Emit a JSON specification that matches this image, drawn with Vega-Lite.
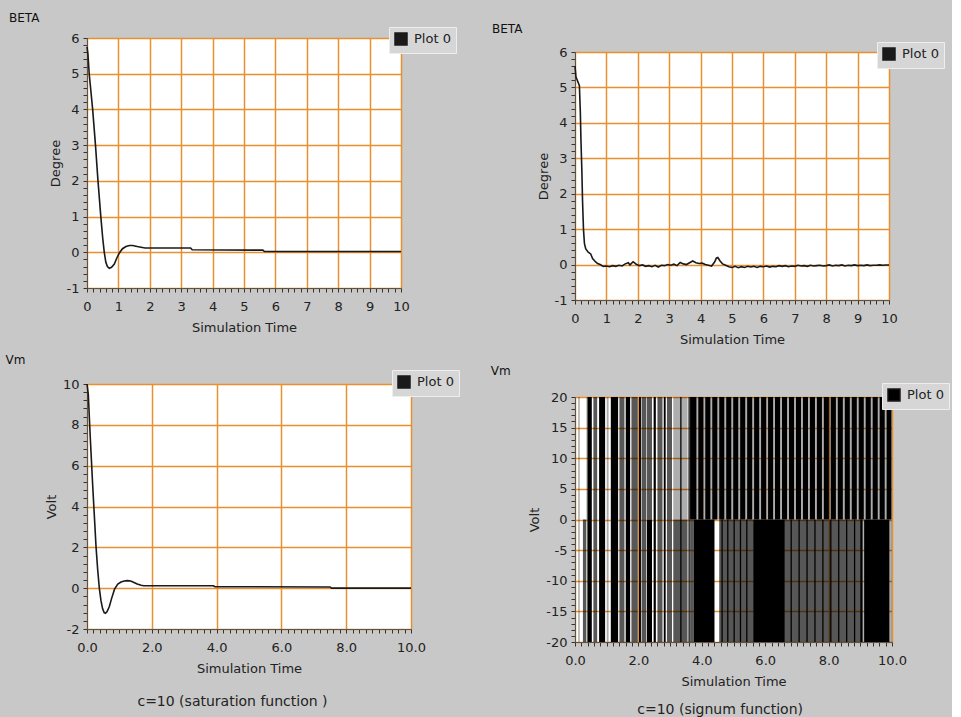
{
  "$schema": "https://vega.github.io/schema/vega-lite/v6.json",
  "background": "#c8c8c8",
  "padding": {"left": 4, "top": 4, "right": 2, "bottom": 0},
  "config": {
    "font": "DejaVu Sans",
    "view": {"stroke": "#777777", "fill": "white"},
    "axis": {
      "labelFont": "DejaVu Sans", "labelFontSize": 13, "labelColor": "#222222",
      "titleFont": "DejaVu Sans", "titleFontSize": 13, "titleFontWeight": "normal", "titleColor": "#222222",
      "domainColor": "#555555", "tickColor": "#333333", "tickSize": 4, "tickWidth": 1,
      "gridColor": "#e8902f", "gridWidth": 1.5,
      "labelFlush": false, "labelOverlap": false
    },
    "axisX": {"labelPadding": 8, "titlePadding": 8},
    "axisY": {"labelPadding": 4, "titlePadding": 4},
    "legend": {
      "orient": "none", "title": null, "symbolType": "square", "symbolSize": 144,
      "symbolFillColor": "#1a1a1a", "symbolStrokeColor": "#1a1a1a", "symbolOpacity": 1,
      "labelFont": "DejaVu Sans", "labelFontSize": 13, "labelColor": "#222222", "labelOffset": 6,
      "fillColor": "#d6d6d6", "strokeColor": "#eeeeee", "padding": 5
    },
    "title": {"anchor": "start", "frame": "bounds", "fontSize": 12, "fontWeight": "normal", "color": "#111111", "font": "DejaVu Sans"}
  },
  "spacing": 30,
  "resolve": {"scale": {"color": "independent"}, "legend": {"color": "independent"}},
  "hconcat": [
    {
      "spacing": 0,
      "resolve": {"scale": {"color": "independent"}, "legend": {"color": "independent"}},
      "vconcat": [
        {"width": 20, "height": 1, "data": {"values": [{"a": 0}]}, "mark": {"type": "point", "opacity": 0}, "encoding": {}, "view": {"stroke": null, "fill": null}},
        {
          "spacing": 18,
          "resolve": {"scale": {"color": "independent"}, "legend": {"color": "independent"}},
          "vconcat": [
            {
              "width": 314, "height": 250,
              "title": {"text": "BETA", "dx": -40, "offset": 2},
              "data": {"values": [
                {"t": 0, "v": 5.75}, {"t": 0.03, "v": 5.55}, {"t": 0.07, "v": 5.0}, {"t": 0.18, "v": 4.0},
                {"t": 0.27, "v": 3.0}, {"t": 0.35, "v": 2.0}, {"t": 0.44, "v": 1.0}, {"t": 0.5, "v": 0.4},
                {"t": 0.55, "v": 0.0}, {"t": 0.6, "v": -0.28}, {"t": 0.65, "v": -0.4}, {"t": 0.71, "v": -0.45},
                {"t": 0.78, "v": -0.42}, {"t": 0.87, "v": -0.33}, {"t": 0.95, "v": -0.16}, {"t": 1.03, "v": -0.02},
                {"t": 1.13, "v": 0.1}, {"t": 1.24, "v": 0.16}, {"t": 1.35, "v": 0.19}, {"t": 1.45, "v": 0.19},
                {"t": 1.6, "v": 0.16}, {"t": 1.72, "v": 0.14}, {"t": 1.85, "v": 0.12}, {"t": 3.3, "v": 0.12},
                {"t": 3.35, "v": 0.07}, {"t": 5.6, "v": 0.06}, {"t": 5.65, "v": 0.02}, {"t": 10, "v": 0.02}
              ]},
              "mark": {"type": "line", "strokeWidth": 1.6},
              "encoding": {
                "x": {"field": "t", "type": "quantitative", "title": "Simulation Time",
                  "scale": {"domain": [0, 10], "nice": false, "zero": false},
                  "axis": {
                    "values": [0,0.2,0.4,0.6,0.8,1,1.2,1.4,1.6,1.8,2,2.2,2.4,2.6,2.8,3,3.2,3.4,3.6,3.8,4,4.2,4.4,4.6,4.8,5,5.2,5.4,5.6,5.8,6,6.2,6.4,6.6,6.8,7,7.2,7.4,7.6,7.8,8,8.2,8.4,8.6,8.8,9,9.2,9.4,9.6,9.8,10],
                    "labelExpr": "abs(datum.value - round(datum.value)) < 0.001 ? '' + round(datum.value) : ''",
                    "gridOpacity": {"condition": {"test": "abs(datum.value - round(datum.value)) < 0.001", "value": 1}, "value": 0}
                  }},
                "y": {"field": "v", "type": "quantitative", "title": "Degree",
                  "scale": {"domain": [-1, 6], "nice": false, "zero": false},
                  "axis": {
                    "values": [-1,-0.8,-0.6,-0.4,-0.2,0,0.2,0.4,0.6,0.8,1,1.2,1.4,1.6,1.8,2,2.2,2.4,2.6,2.8,3,3.2,3.4,3.6,3.8,4,4.2,4.4,4.6,4.8,5,5.2,5.4,5.6,5.8,6],
                    "labelExpr": "abs(datum.value - round(datum.value)) < 0.001 ? '' + round(datum.value) : ''",
                    "gridOpacity": {"condition": {"test": "abs(datum.value - round(datum.value)) < 0.001", "value": 1}, "value": 0}
                  }},
                "color": {"datum": "Plot 0", "scale": {"range": ["#1a1a1a"]}, "legend": {"legendX": 302, "legendY": -11}}
              }
            },
            {
              "title": {"text": "c=10 (saturation function )", "orient": "bottom", "anchor": "middle", "fontSize": 14, "offset": 19, "color": "#222222"},
              "resolve": {"scale": {"color": "independent"}, "legend": {"color": "independent"}},
              "vconcat": [
                {
                  "width": 324, "height": 245,
                  "title": {"text": "Vm", "dx": -40, "offset": 3},
                  "data": {"values": [
                    {"t": 0, "v": 10}, {"t": 0.04, "v": 9.5}, {"t": 0.1, "v": 7.4}, {"t": 0.18, "v": 4.9},
                    {"t": 0.28, "v": 2.0}, {"t": 0.33, "v": 0.9}, {"t": 0.38, "v": 0.0}, {"t": 0.43, "v": -0.6},
                    {"t": 0.48, "v": -1.0}, {"t": 0.53, "v": -1.2}, {"t": 0.57, "v": -1.23}, {"t": 0.62, "v": -1.15},
                    {"t": 0.69, "v": -0.9}, {"t": 0.76, "v": -0.5}, {"t": 0.85, "v": -0.05}, {"t": 0.95, "v": 0.2},
                    {"t": 1.05, "v": 0.3}, {"t": 1.15, "v": 0.35}, {"t": 1.25, "v": 0.37}, {"t": 1.35, "v": 0.35},
                    {"t": 1.45, "v": 0.28}, {"t": 1.55, "v": 0.2}, {"t": 1.67, "v": 0.14}, {"t": 1.75, "v": 0.12},
                    {"t": 3.9, "v": 0.12}, {"t": 3.95, "v": 0.07}, {"t": 7.5, "v": 0.06}, {"t": 7.55, "v": 0.0},
                    {"t": 10, "v": 0.0}
                  ]},
                  "mark": {"type": "line", "strokeWidth": 1.6},
                  "encoding": {
                    "x": {"field": "t", "type": "quantitative", "title": "Simulation Time",
                      "scale": {"domain": [0, 10], "nice": false, "zero": false},
                      "axis": {
                        "values": [0,0.2,0.4,0.6,0.8,1,1.2,1.4,1.6,1.8,2,2.2,2.4,2.6,2.8,3,3.2,3.4,3.6,3.8,4,4.2,4.4,4.6,4.8,5,5.2,5.4,5.6,5.8,6,6.2,6.4,6.6,6.8,7,7.2,7.4,7.6,7.8,8,8.2,8.4,8.6,8.8,9,9.2,9.4,9.6,9.8,10],
                        "labelExpr": "abs(datum.value/2 - round(datum.value/2)) < 0.001 ? format(datum.value, '.1f') : ''",
                        "gridOpacity": {"condition": {"test": "abs(datum.value/2 - round(datum.value/2)) < 0.001", "value": 1}, "value": 0}
                      }},
                    "y": {"field": "v", "type": "quantitative", "title": "Volt",
                      "scale": {"domain": [-2, 10], "nice": false, "zero": false},
                      "axis": {
                        "values": [-2,-1.6,-1.2,-0.8,-0.4,0,0.4,0.8,1.2,1.6,2,2.4,2.8,3.2,3.6,4,4.4,4.8,5.2,5.6,6,6.4,6.8,7.2,7.6,8,8.4,8.8,9.2,9.6,10],
                        "labelExpr": "abs(datum.value/2 - round(datum.value/2)) < 0.001 ? '' + round(datum.value) : ''",
                        "gridOpacity": {"condition": {"test": "abs(datum.value/2 - round(datum.value/2)) < 0.001", "value": 1}, "value": 0}
                      }},
                    "color": {"datum": "Plot 0", "scale": {"range": ["#1a1a1a"]}, "legend": {"legendX": 305, "legendY": -14}}
                  }
                }
              ]
            }
          ]
        }
      ]
    },
    {
      "spacing": 0,
      "resolve": {"scale": {"color": "independent"}, "legend": {"color": "independent"}},
      "vconcat": [
        {"width": 20, "height": 15, "data": {"values": [{"a": 0}]}, "mark": {"type": "point", "opacity": 0}, "encoding": {}, "view": {"stroke": null, "fill": null}},
        {
          "spacing": 17,
          "resolve": {"scale": {"color": "independent"}, "legend": {"color": "independent"}},
          "vconcat": [
            {
              "width": 314, "height": 248,
              "title": {"text": "BETA", "dx": -45, "offset": 6},
              "data": {"values": [
                {"t": 0, "v": 5.6}, {"t": 0.03, "v": 5.3}, {"t": 0.14, "v": 5.05}, {"t": 0.17, "v": 4.3},
                {"t": 0.19, "v": 3.5}, {"t": 0.22, "v": 2.6}, {"t": 0.24, "v": 1.8}, {"t": 0.27, "v": 1.0},
                {"t": 0.3, "v": 0.6}, {"t": 0.34, "v": 0.45}, {"t": 0.42, "v": 0.35}, {"t": 0.5, "v": 0.3},
                {"t": 0.56, "v": 0.17}, {"t": 0.65, "v": 0.08}, {"t": 0.72, "v": 0.03}, {"t": 0.8, "v": 0.0},
                {"t": 0.9, "v": -0.05}, {"t": 1.0, "v": -0.04}, {"t": 1.1, "v": -0.06}, {"t": 1.2, "v": -0.03},
                {"t": 1.3, "v": -0.05}, {"t": 1.4, "v": -0.02}, {"t": 1.5, "v": -0.04}, {"t": 1.6, "v": 0.02},
                {"t": 1.7, "v": 0.05}, {"t": 1.75, "v": -0.01}, {"t": 1.85, "v": 0.08}, {"t": 1.95, "v": 0.01},
                {"t": 2.05, "v": -0.03}, {"t": 2.15, "v": -0.01}, {"t": 2.25, "v": -0.05}, {"t": 2.35, "v": -0.03},
                {"t": 2.45, "v": -0.06}, {"t": 2.55, "v": -0.02}, {"t": 2.65, "v": -0.07}, {"t": 2.75, "v": -0.02},
                {"t": 2.85, "v": -0.03}, {"t": 2.95, "v": 0.0}, {"t": 3.05, "v": -0.02}, {"t": 3.15, "v": 0.01},
                {"t": 3.25, "v": -0.03}, {"t": 3.35, "v": 0.06}, {"t": 3.45, "v": 0.02}, {"t": 3.55, "v": 0.0},
                {"t": 3.65, "v": 0.05}, {"t": 3.75, "v": 0.1}, {"t": 3.85, "v": 0.05}, {"t": 3.95, "v": 0.03},
                {"t": 4.05, "v": 0.04}, {"t": 4.15, "v": 0.0}, {"t": 4.25, "v": -0.02}, {"t": 4.35, "v": -0.04},
                {"t": 4.45, "v": 0.08}, {"t": 4.5, "v": 0.18}, {"t": 4.55, "v": 0.2}, {"t": 4.62, "v": 0.1},
                {"t": 4.7, "v": 0.02}, {"t": 4.8, "v": -0.02}, {"t": 4.9, "v": -0.06}, {"t": 5.0, "v": -0.08},
                {"t": 5.1, "v": -0.05}, {"t": 5.2, "v": -0.09}, {"t": 5.3, "v": -0.06}, {"t": 5.4, "v": -0.08},
                {"t": 5.5, "v": -0.05}, {"t": 5.6, "v": -0.07}, {"t": 5.7, "v": -0.05}, {"t": 5.8, "v": -0.08},
                {"t": 5.9, "v": -0.05}, {"t": 6.0, "v": -0.06}, {"t": 6.1, "v": -0.04}, {"t": 6.2, "v": -0.07},
                {"t": 6.3, "v": -0.05}, {"t": 6.4, "v": -0.06}, {"t": 6.5, "v": -0.03}, {"t": 6.6, "v": -0.05},
                {"t": 6.7, "v": -0.03}, {"t": 6.8, "v": -0.06}, {"t": 6.9, "v": -0.04}, {"t": 7.0, "v": -0.05},
                {"t": 7.1, "v": -0.02}, {"t": 7.2, "v": -0.04}, {"t": 7.3, "v": -0.03}, {"t": 7.4, "v": -0.05},
                {"t": 7.5, "v": -0.02}, {"t": 7.6, "v": -0.04}, {"t": 7.7, "v": -0.03}, {"t": 7.8, "v": -0.02},
                {"t": 7.9, "v": -0.04}, {"t": 8.0, "v": -0.03}, {"t": 8.1, "v": -0.01}, {"t": 8.2, "v": -0.04},
                {"t": 8.3, "v": -0.02}, {"t": 8.4, "v": -0.03}, {"t": 8.5, "v": -0.01}, {"t": 8.6, "v": -0.04},
                {"t": 8.7, "v": -0.02}, {"t": 8.8, "v": -0.03}, {"t": 8.9, "v": -0.01}, {"t": 9.0, "v": -0.03},
                {"t": 9.1, "v": -0.02}, {"t": 9.2, "v": -0.03}, {"t": 9.3, "v": -0.01}, {"t": 9.4, "v": -0.03},
                {"t": 9.5, "v": -0.02}, {"t": 9.6, "v": -0.02}, {"t": 9.7, "v": -0.01}, {"t": 9.8, "v": -0.02},
                {"t": 9.9, "v": -0.01}, {"t": 10, "v": -0.01}
              ]},
              "mark": {"type": "line", "strokeWidth": 1.6},
              "encoding": {
                "x": {"field": "t", "type": "quantitative", "title": "Simulation Time",
                  "scale": {"domain": [0, 10], "nice": false, "zero": false},
                  "axis": {
                    "values": [0,0.2,0.4,0.6,0.8,1,1.2,1.4,1.6,1.8,2,2.2,2.4,2.6,2.8,3,3.2,3.4,3.6,3.8,4,4.2,4.4,4.6,4.8,5,5.2,5.4,5.6,5.8,6,6.2,6.4,6.6,6.8,7,7.2,7.4,7.6,7.8,8,8.2,8.4,8.6,8.8,9,9.2,9.4,9.6,9.8,10],
                    "labelExpr": "abs(datum.value - round(datum.value)) < 0.001 ? '' + round(datum.value) : ''",
                    "gridOpacity": {"condition": {"test": "abs(datum.value - round(datum.value)) < 0.001", "value": 1}, "value": 0}
                  }},
                "y": {"field": "v", "type": "quantitative", "title": "Degree",
                  "scale": {"domain": [-1, 6], "nice": false, "zero": false},
                  "axis": {
                    "values": [-1,-0.8,-0.6,-0.4,-0.2,0,0.2,0.4,0.6,0.8,1,1.2,1.4,1.6,1.8,2,2.2,2.4,2.6,2.8,3,3.2,3.4,3.6,3.8,4,4.2,4.4,4.6,4.8,5,5.2,5.4,5.6,5.8,6],
                    "labelExpr": "abs(datum.value - round(datum.value)) < 0.001 ? '' + round(datum.value) : ''",
                    "gridOpacity": {"condition": {"test": "abs(datum.value - round(datum.value)) < 0.001", "value": 1}, "value": 0}
                  }},
                "color": {"datum": "Plot 0", "scale": {"range": ["#1a1a1a"]}, "legend": {"legendX": 302, "legendY": -10}}
              }
            },
            {
              "title": {"text": "c=10 (signum function)", "orient": "bottom", "anchor": "middle", "fontSize": 14, "offset": 14, "color": "#222222"},
              "resolve": {"scale": {"color": "independent"}, "legend": {"color": "independent"}},
              "vconcat": [
                {
                  "width": 317, "height": 245,
                  "title": {"text": "Vm", "dx": -38, "offset": 5},
                  "data": {"values": [
                    {"t0": 0.10, "t1": 0.15, "lo": -20, "hi": 20, "s": "l"},
                    {"t0": 0.25, "t1": 0.35, "lo": -20, "hi": 0, "s": "g"},
                    {"t0": 0.37, "t1": 0.40, "lo": -20, "hi": 20, "s": "g"},
                    {"t0": 0.40, "t1": 0.53, "lo": -20, "hi": 20, "s": "k"},
                    {"t0": 0.58, "t1": 0.70, "lo": -20, "hi": 20, "s": "g"},
                    {"t0": 0.76, "t1": 0.95, "lo": -20, "hi": 20, "s": "k"},
                    {"t0": 1.00, "t1": 1.06, "lo": -20, "hi": 20, "s": "l"},
                    {"t0": 1.13, "t1": 1.36, "lo": -20, "hi": 20, "s": "k"},
                    {"t0": 1.40, "t1": 1.56, "lo": -20, "hi": 20, "s": "g"},
                    {"t0": 1.60, "t1": 1.74, "lo": -20, "hi": 20, "s": "k"},
                    {"t0": 1.78, "t1": 1.98, "lo": -20, "hi": 20, "s": "g"},
                    {"t0": 2.02, "t1": 2.08, "lo": -20, "hi": 20, "s": "k"},
                    {"t0": 2.10, "t1": 2.25, "lo": -20, "hi": 20, "s": "g"},
                    {"t0": 2.27, "t1": 2.43, "lo": -20, "hi": 0, "s": "k"},
                    {"t0": 2.27, "t1": 2.43, "lo": 0, "hi": 20, "s": "g"},
                    {"t0": 2.48, "t1": 2.55, "lo": -20, "hi": 20, "s": "k"},
                    {"t0": 2.60, "t1": 2.76, "lo": -20, "hi": 20, "s": "g"},
                    {"t0": 2.80, "t1": 2.86, "lo": -20, "hi": 20, "s": "k"},
                    {"t0": 2.90, "t1": 3.06, "lo": -20, "hi": 20, "s": "g"},
                    {"t0": 3.10, "t1": 3.55, "lo": 0, "hi": 20, "s": "l"},
                    {"t0": 3.10, "t1": 3.55, "lo": -20, "hi": 0, "s": "g"},
                    {"t0": 3.32, "t1": 3.36, "lo": -20, "hi": 20, "s": "k"},
                    {"t0": 3.58, "t1": 3.62, "lo": -20, "hi": 20, "s": "k"},
                    {"t0": 3.63, "t1": 10.0, "lo": 0, "hi": 20, "s": "l"},
                    {"t0": 3.63, "t1": 3.83, "lo": 0, "hi": 20, "s": "k"},
                    {"t0": 3.89, "t1": 4.05, "lo": 0, "hi": 20, "s": "k"},
                    {"t0": 4.11, "t1": 4.27, "lo": 0, "hi": 20, "s": "k"},
                    {"t0": 4.33, "t1": 4.49, "lo": 0, "hi": 20, "s": "k"},
                    {"t0": 4.55, "t1": 4.71, "lo": 0, "hi": 20, "s": "k"},
                    {"t0": 4.77, "t1": 4.93, "lo": 0, "hi": 20, "s": "k"},
                    {"t0": 4.99, "t1": 5.15, "lo": 0, "hi": 20, "s": "k"},
                    {"t0": 5.21, "t1": 5.37, "lo": 0, "hi": 20, "s": "k"},
                    {"t0": 5.43, "t1": 5.59, "lo": 0, "hi": 20, "s": "k"},
                    {"t0": 5.65, "t1": 5.81, "lo": 0, "hi": 20, "s": "k"},
                    {"t0": 5.87, "t1": 6.03, "lo": 0, "hi": 20, "s": "k"},
                    {"t0": 6.09, "t1": 6.25, "lo": 0, "hi": 20, "s": "k"},
                    {"t0": 6.31, "t1": 6.47, "lo": 0, "hi": 20, "s": "k"},
                    {"t0": 6.53, "t1": 6.69, "lo": 0, "hi": 20, "s": "k"},
                    {"t0": 6.75, "t1": 6.91, "lo": 0, "hi": 20, "s": "k"},
                    {"t0": 6.97, "t1": 7.13, "lo": 0, "hi": 20, "s": "k"},
                    {"t0": 7.19, "t1": 7.35, "lo": 0, "hi": 20, "s": "k"},
                    {"t0": 7.41, "t1": 7.57, "lo": 0, "hi": 20, "s": "k"},
                    {"t0": 7.63, "t1": 7.79, "lo": 0, "hi": 20, "s": "k"},
                    {"t0": 7.85, "t1": 8.01, "lo": 0, "hi": 20, "s": "k"},
                    {"t0": 8.07, "t1": 8.23, "lo": 0, "hi": 20, "s": "k"},
                    {"t0": 8.29, "t1": 8.45, "lo": 0, "hi": 20, "s": "k"},
                    {"t0": 8.51, "t1": 8.67, "lo": 0, "hi": 20, "s": "k"},
                    {"t0": 8.73, "t1": 8.89, "lo": 0, "hi": 20, "s": "k"},
                    {"t0": 8.95, "t1": 9.11, "lo": 0, "hi": 20, "s": "k"},
                    {"t0": 9.17, "t1": 9.33, "lo": 0, "hi": 20, "s": "k"},
                    {"t0": 9.39, "t1": 9.55, "lo": 0, "hi": 20, "s": "k"},
                    {"t0": 9.61, "t1": 9.77, "lo": 0, "hi": 20, "s": "k"},
                    {"t0": 9.83, "t1": 9.98, "lo": 0, "hi": 20, "s": "k"},
                    {"t0": 3.63, "t1": 3.75, "lo": -20, "hi": 0, "s": "g"},
                    {"t0": 3.75, "t1": 4.40, "lo": -20, "hi": 0, "s": "k"},
                    {"t0": 4.55, "t1": 5.62, "lo": -20, "hi": 0, "s": "g"},
                    {"t0": 4.62, "t1": 4.66, "lo": -20, "hi": 0, "s": "k"},
                    {"t0": 4.80, "t1": 4.84, "lo": -20, "hi": 0, "s": "k"},
                    {"t0": 5.00, "t1": 5.04, "lo": -20, "hi": 0, "s": "k"},
                    {"t0": 5.20, "t1": 5.24, "lo": -20, "hi": 0, "s": "k"},
                    {"t0": 5.40, "t1": 5.44, "lo": -20, "hi": 0, "s": "k"},
                    {"t0": 5.62, "t1": 6.62, "lo": -20, "hi": 0, "s": "k"},
                    {"t0": 6.62, "t1": 9.10, "lo": -20, "hi": 0, "s": "g"},
                    {"t0": 6.80, "t1": 6.84, "lo": -20, "hi": 0, "s": "k"},
                    {"t0": 7.05, "t1": 7.09, "lo": -20, "hi": 0, "s": "k"},
                    {"t0": 7.30, "t1": 7.34, "lo": -20, "hi": 0, "s": "k"},
                    {"t0": 7.55, "t1": 7.59, "lo": -20, "hi": 0, "s": "k"},
                    {"t0": 7.80, "t1": 7.84, "lo": -20, "hi": 0, "s": "k"},
                    {"t0": 8.05, "t1": 8.09, "lo": -20, "hi": 0, "s": "k"},
                    {"t0": 8.30, "t1": 8.34, "lo": -20, "hi": 0, "s": "k"},
                    {"t0": 8.55, "t1": 8.59, "lo": -20, "hi": 0, "s": "k"},
                    {"t0": 8.80, "t1": 8.84, "lo": -20, "hi": 0, "s": "k"},
                    {"t0": 9.00, "t1": 9.06, "lo": -20, "hi": 0, "s": "k"},
                    {"t0": 9.12, "t1": 9.92, "lo": -20, "hi": 0, "s": "k"},
                    {"t0": 9.92, "t1": 10.0, "lo": -20, "hi": 0, "s": "l"}
                  ]},
                  "mark": {"type": "rect"},
                  "encoding": {
                    "x": {"field": "t0", "type": "quantitative", "title": "Simulation Time",
                      "scale": {"domain": [0, 10], "nice": false, "zero": false},
                      "axis": {
                        "values": [0,0.2,0.4,0.6,0.8,1,1.2,1.4,1.6,1.8,2,2.2,2.4,2.6,2.8,3,3.2,3.4,3.6,3.8,4,4.2,4.4,4.6,4.8,5,5.2,5.4,5.6,5.8,6,6.2,6.4,6.6,6.8,7,7.2,7.4,7.6,7.8,8,8.2,8.4,8.6,8.8,9,9.2,9.4,9.6,9.8,10],
                        "labelExpr": "abs(datum.value/2 - round(datum.value/2)) < 0.001 ? format(datum.value, '.1f') : ''",
                        "gridOpacity": {"condition": {"test": "abs(datum.value/2 - round(datum.value/2)) < 0.001", "value": 1}, "value": 0}
                      }},
                    "x2": {"field": "t1"},
                    "y": {"field": "lo", "type": "quantitative", "title": "Volt",
                      "scale": {"domain": [-20, 20], "nice": false, "zero": false},
                      "axis": {
                        "values": [-20,-19,-18,-17,-16,-15,-14,-13,-12,-11,-10,-9,-8,-7,-6,-5,-4,-3,-2,-1,0,1,2,3,4,5,6,7,8,9,10,11,12,13,14,15,16,17,18,19,20],
                        "labelExpr": "abs(datum.value/5 - round(datum.value/5)) < 0.001 ? '' + round(datum.value) : ''",
                        "gridOpacity": {"condition": {"test": "abs(datum.value/5 - round(datum.value/5)) < 0.001", "value": 1}, "value": 0}
                      }},
                    "y2": {"field": "hi"},
                    "opacity": {"field": "s", "type": "nominal", "scale": {"domain": ["k", "g", "l"], "range": [1, 0.32, 0.18]}, "legend": null},
                    "color": {"datum": "Plot 0", "scale": {"range": ["#000000"]}, "legend": {"legendX": 307, "legendY": -14}}
                  }
                }
              ]
            }
          ]
        }
      ]
    }
  ]
}
